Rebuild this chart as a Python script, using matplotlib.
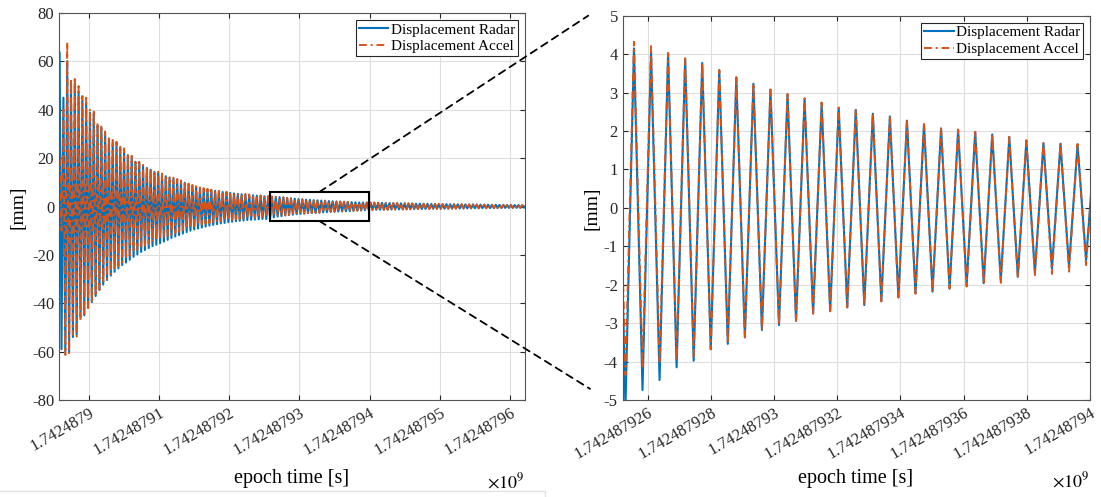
import numpy as np
import matplotlib
matplotlib.use("Agg")
import matplotlib.pyplot as plt
from matplotlib.patches import Rectangle, ConnectionPatch
from matplotlib.lines import Line2D

plt.rcParams["font.family"] = "Liberation Serif"
plt.rcParams["mathtext.fontset"] = "stix"
plt.rcParams["axes.unicode_minus"] = False

# --- data: one peak and one trough per oscillation cycle ---
t_first = 1742487895.866   # time of first listed peak [s]
half_period = 0.27         # peak -> trough spacing [s]

accel_peaks = [20, 40, 68, 53, 53.6, 49.8, 45.7, 45, 40.3, 40, 34.7, 33.7, 31, 29, 27.5, 26.8,
               24.7, 24, 22, 21, 19.2, 18.5, 17.2, 16.5, 15.8, 14.8, 14.4, 13.6, 13.0, 12.4,
               11.9, 11.4, 10.8, 10.2, 9.5, 8.9, 8.4, 7.9, 7.6, 7.3, 7.0, 6.8, 6.5, 6.3, 6.1,
               5.9, 5.7, 5.5, 5.35, 5.2, 5.0, 4.9, 4.8, 4.6, 4.45,
               4.32, 4.21, 4.03, 3.89, 3.78, 3.59, 3.40, 3.24, 3.08, 2.96, 2.85, 2.74, 2.61,
               2.56, 2.46, 2.39, 2.28, 2.18, 2.07, 2.04, 1.98, 1.92, 1.85, 1.76, 1.69, 1.68, 1.66,
               1.62, 1.6, 1.55, 1.53, 1.48, 1.46, 1.41, 1.39, 1.35, 1.33, 1.28, 1.27, 1.22, 1.2,
               1.16, 1.15, 1.1, 1.08, 1.05, 1.03, 1.0, 0.98, 0.95, 0.93, 0.9, 0.89, 0.86, 0.85,
               0.82, 0.81, 0.78, 0.77, 0.74, 0.73, 0.7, 0.69, 0.66, 0.65, 0.62, 0.61, 0.58, 0.57]
accel_troughs = [-10, -61.4, -61, -53, -53.8, -47, -45.5, -42, -40, -37, -34.5, -32, -30, -28,
                 -26.3, -24.6, -23, -21.6, -20.3, -19, -18, -17, -16.2, -15.5, -14.6, -14.0,
                 -13.4, -12.8, -12.2, -11.6, -11.0, -10.4, -9.8, -9.2, -8.6, -8.1, -7.7, -7.4,
                 -7.1, -6.8, -6.5, -6.3, -6.1, -5.9, -5.7, -5.5, -5.3, -5.2, -5.0, -4.9, -4.8,
                 -4.7, -4.6, -4.5,
                 -4.35, -4.18, -4.05, -3.96, -3.86, -3.68, -3.54, -3.37, -3.18, -3.05, -2.94,
                 -2.75, -2.69, -2.59, -2.53, -2.43, -2.33, -2.23, -2.18, -2.1, -2.05, -2.0,
                 -1.95, -1.83, -1.75, -1.72, -1.66, -1.49,
                 -1.5, -1.47, -1.43, -1.41, -1.37, -1.35, -1.31, -1.29, -1.25, -1.23, -1.19,
                 -1.17, -1.13, -1.12, -1.08, -1.06, -1.03, -1.01, -0.98, -0.96, -0.93, -0.91,
                 -0.88, -0.87, -0.84, -0.82, -0.8, -0.78, -0.76, -0.74, -0.72, -0.7, -0.68,
                 -0.67, -0.65, -0.63, -0.61, -0.6, -0.58, -0.56, -0.55, -0.53]
radar_peaks = [63.6, 45, 60, 51, 51, 47.5, 44, 43, 38.8, 38.5, 33.5, 32.5, 30, 28, 26.5, 25.8,
               23.8, 23.1, 21.2, 20.2, 18.5, 17.8, 16.6, 15.9, 15.2, 14.3, 13.9, 13.1, 12.5,
               11.9, 11.4, 10.9, 10.4, 9.8, 9.1, 8.6, 8.1, 7.6, 7.3, 7.0, 6.7, 6.5, 6.2, 6.0,
               5.8, 5.6, 5.4, 5.2, 5.05, 4.9, 4.75, 4.6, 4.5, 4.35, 4.25,
               4.15, 4.04, 4.02, 3.88, 3.77, 3.58, 3.39, 3.23, 3.07, 2.95, 2.84, 2.73, 2.6,
               2.55, 2.45, 2.38, 2.27, 2.17, 2.06, 2.03, 1.97, 1.91, 1.84, 1.75, 1.68, 1.67, 1.65,
               1.58, 1.57, 1.52, 1.5, 1.45, 1.43, 1.38, 1.36, 1.32, 1.3, 1.25, 1.24, 1.19, 1.17,
               1.13, 1.12, 1.07, 1.05, 1.02, 1.0, 0.97, 0.95, 0.92, 0.9, 0.87, 0.86, 0.83, 0.82,
               0.79, 0.78, 0.75, 0.74, 0.71, 0.7, 0.67, 0.66, 0.63, 0.62, 0.59, 0.58, 0.55, 0.54]
radar_troughs = [-59, -60, -60, -54, -53, -46, -45, -41.5, -39.5, -37, -34.5, -32.3, -30.4,
                 -28.6, -27, -25.6, -24.2, -23.2, -22, -20.8, -19.8, -18.8, -18, -17.2, -16.4,
                 -15.8, -15.2, -14.5, -13.8, -13.0, -12.4, -11.8, -11.2, -10.6, -10.0, -9.5,
                 -9.1, -8.7, -8.3, -7.9, -7.6, -7.3, -7.0, -6.8, -6.5, -6.3, -6.1, -5.9, -5.8,
                 -5.6, -5.5, -5.4, -5.3, -5.15,
                 -5.2, -4.74, -4.48, -4.15, -3.98, -3.68, -3.54, -3.37, -3.18, -3.05, -2.94,
                 -2.75, -2.69, -2.59, -2.53, -2.43, -2.33, -2.23, -2.18, -2.1, -2.01, -1.96,
                 -1.9, -1.79, -1.69, -1.58, -1.53, -1.36,
                 -1.38, -1.35, -1.32, -1.3, -1.26, -1.24, -1.2, -1.18, -1.15, -1.13, -1.1,
                 -1.08, -1.05, -1.03, -1.0, -0.98, -0.95, -0.93, -0.91, -0.89, -0.86, -0.84,
                 -0.82, -0.8, -0.78, -0.76, -0.74, -0.72, -0.7, -0.68, -0.67, -0.65, -0.63,
                 -0.62, -0.6, -0.58, -0.57, -0.55, -0.54, -0.52, -0.51, -0.5]

# tick positions / labels (MATLAB style, shown with a x10^9 factor)
left_ticks = [1742487900, 1742487910, 1742487920, 1742487930, 1742487940, 1742487950, 1742487960]
left_labels = ["1.7424879", "1.74248791", "1.74248792", "1.74248793", "1.74248794",
               "1.74248795", "1.74248796"]
right_ticks = [1742487926, 1742487928, 1742487930, 1742487932, 1742487934, 1742487936,
               1742487938, 1742487940]
right_labels = ["1.742487926", "1.742487928", "1.74248793", "1.742487932", "1.742487934",
                "1.742487936", "1.742487938", "1.74248794"]

full_xlim = (1742487895.78, 1742487962.13)
zoom_xlim = (1742487925.21, 1742487940.0)
zoom_box_x = (1742487925.8, 1742487939.9)
zoom_box_y = (-6, 6)

blue = "#0072BD"
orange = "#D95319"


def zigzag(peaks, troughs):
    vals = np.column_stack([peaks, troughs]).ravel()
    t = t_first + half_period * np.arange(len(vals))
    return t, vals


t_r, y_r = zigzag(radar_peaks, radar_troughs)
t_a, y_a = zigzag(accel_peaks, accel_troughs)

fig = plt.figure(figsize=(11.01, 4.97), dpi=100)
ax1 = fig.add_axes([0.0536, 0.1952, 0.4232, 0.7786])
ax2 = fig.add_axes([0.5656, 0.1952, 0.4244, 0.7732])

for ax in (ax1, ax2):
    ax.plot(t_r, y_r, color=blue, lw=1.5, label="Displacement Radar")
    ax.plot(t_a, y_a, color=orange, lw=1.4, dashes=(4, 2, 1, 2), label="Displacement Accel")
    ax.grid(True, color="#dedede", lw=0.8)
    ax.set_axisbelow(True)
    ax.tick_params(direction="in", top=True, right=True, length=3.5, width=0.8,
                   colors="#262626", labelsize=12)
    for s in ax.spines.values():
        s.set_color("#555555")
        s.set_linewidth(0.8)
    leg = ax.legend(loc="upper right", fancybox=False, edgecolor="#262626", framealpha=1,
                    fontsize=11, handlelength=1.9, handletextpad=0.15, borderpad=0.2,
                    labelspacing=0.2, borderaxespad=0.45)
    leg.get_frame().set_linewidth(0.8)

ax1.set_xlim(full_xlim)
ax1.set_ylim(-80, 80)
ax1.set_yticks(np.arange(-80, 81, 20))
ax1.set_xticks(left_ticks)
ax1.set_xticklabels(left_labels, rotation=30, ha="right", rotation_mode="anchor")

ax2.set_xlim(zoom_xlim)
ax2.set_ylim(-5, 5)
ax2.set_yticks(np.arange(-5, 6, 1))
ax2.set_xticks(right_ticks)
ax2.set_xticklabels(right_labels, rotation=30, ha="right", rotation_mode="anchor")

# zoom box + connectors
ax1.add_patch(Rectangle((zoom_box_x[0], zoom_box_y[0]), zoom_box_x[1] - zoom_box_x[0],
                        zoom_box_y[1] - zoom_box_y[0], fill=False, ec="black", lw=1.5, zorder=5))
xc = (zoom_box_x[0] + zoom_box_x[1]) / 2
for yb, target in ((zoom_box_y[1], (-0.074, 1.0)), (zoom_box_y[0], (-0.07, 0.029))):
    con = ConnectionPatch(xyA=(xc, yb), coordsA=ax1.transData, xyB=target, coordsB=ax2.transAxes,
                          color="black", lw=1.3, linestyle=(0, (4, 3)))
    fig.add_artist(con)

# labels
fig.text(292 / 1101, 1 - 478 / 497, "epoch time [s]", ha="center", va="center", fontsize=14.5)
fig.text(856 / 1101, 1 - 478 / 497, "epoch time [s]", ha="center", va="center", fontsize=14.5)
fig.text(18.5 / 1101, 1 - 207 / 497, "[mm]", rotation=90, ha="center", va="center", fontsize=14)
fig.text(592 / 1101, 1 - 208 / 497, "[mm]", rotation=90, ha="center", va="center", fontsize=14)
fig.text(525 / 1101, 1 - 482 / 497, r"$\times10^{9}$", ha="right", va="center", fontsize=13)
fig.text(1090 / 1101, 1 - 481 / 497, r"$\times10^{9}$", ha="right", va="center", fontsize=13)

# faint frame of the left sub-figure
fig.add_artist(Line2D([0, 545 / 1101], [1 - 490.5 / 497] * 2, color="#e4e4e4", lw=1))
fig.add_artist(Line2D([545 / 1101] * 2, [0, 1 - 490.5 / 497], color="#e4e4e4", lw=1))

fig.savefig("out.png", dpi=100)
